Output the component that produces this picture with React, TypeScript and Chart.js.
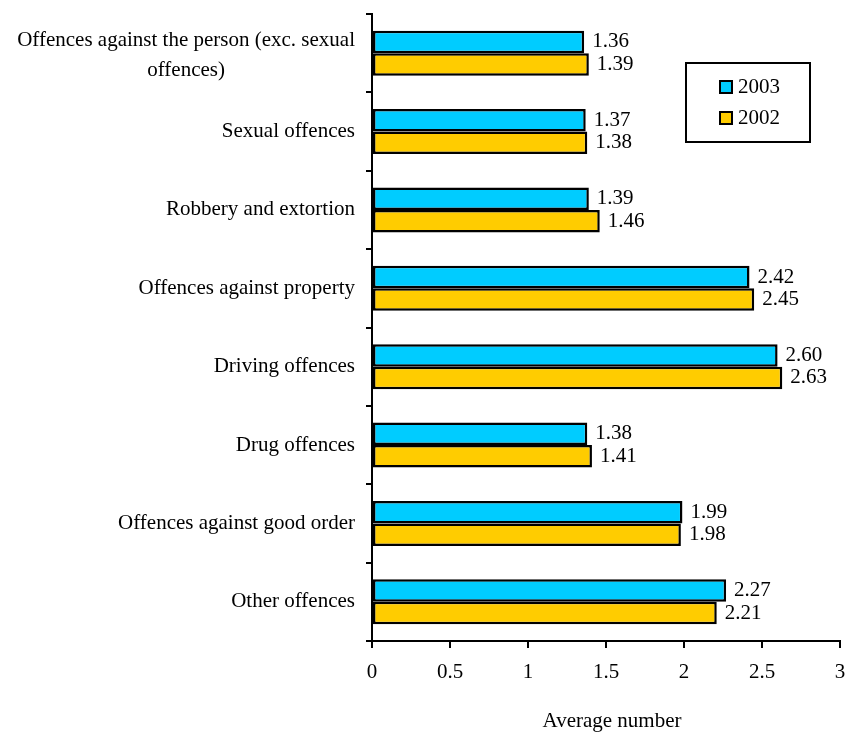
import React, { useEffect, useRef } from "react";
import { Chart, registerables } from "chart.js";

Chart.register(...registerables);

const categories: string[][] = [
  ["Offences against the person (exc. sexual", "offences)"],
  ["Sexual offences"],
  ["Robbery and extortion"],
  ["Offences against property"],
  ["Driving offences"],
  ["Drug offences"],
  ["Offences against good order"],
  ["Other offences"],
];
const series2003: number[] = [1.36, 1.37, 1.39, 2.42, 2.6, 1.38, 1.99, 2.27];
const series2002: number[] = [1.39, 1.38, 1.46, 2.45, 2.63, 1.41, 1.98, 2.21];
const xTicks: number[] = [0, 0.5, 1, 1.5, 2, 2.5, 3];
const seriesNames = ["2003", "2002"];
const seriesColors = ["#00CCFF", "#FFCC00"];
const xTitle = "Average number";

const FONT = '"Liberation Serif", "Times New Roman", serif';
const FONT_SIZE = 21;

// Category names drawn left of the axis, multi-line blocks centred line by line
const categoryLabelsPlugin = {
  id: "categoryLabels",
  afterDraw(chart: any) {
    const ctx = chart.ctx;
    const yScale = chart.scales.y;
    const right = chart.chartArea.left - 17;
    ctx.save();
    ctx.font = `${FONT_SIZE}px ${FONT}`;
    ctx.fillStyle = "#000";
    ctx.textBaseline = "middle";
    ctx.textAlign = "center";
    const lineH = 30;
    categories.forEach((lines, i) => {
      const cy = yScale.getPixelForValue(i) + (lines.length > 1 ? 2 : 0);
      const widths = lines.map((l) => ctx.measureText(l).width);
      const blockW = Math.max(...widths);
      const cx = right - blockW / 2;
      const y0 = cy - ((lines.length - 1) * lineH) / 2;
      lines.forEach((l, k) => ctx.fillText(l, cx, y0 + k * lineH));
    });
    // axis title below the tick labels
    const xScale = chart.scales.x;
    const mid = (xScale.left + xScale.right) / 2 + 6;
    ctx.fillText(xTitle, mid, 721);
    ctx.restore();
  },
};

// Value labels right of each bar end
const valueLabelsPlugin = {
  id: "valueLabels",
  afterDatasetsDraw(chart: any) {
    const ctx = chart.ctx;
    ctx.save();
    ctx.font = `${FONT_SIZE}px ${FONT}`;
    ctx.fillStyle = "#000";
    ctx.textBaseline = "middle";
    ctx.textAlign = "left";
    chart.data.datasets.forEach((ds: any, di: number) => {
      const meta = chart.getDatasetMeta(di);
      meta.data.forEach((bar: any, i: number) => {
        ctx.fillText(Number(ds.data[i]).toFixed(2), bar.x + 8, bar.y);
      });
    });
    ctx.restore();
  },
};

// Boxed legend at the upper right
const boxLegendPlugin = {
  id: "boxLegend",
  afterDraw(chart: any) {
    const ctx = chart.ctx;
    const bx = 686;
    const by = 63;
    const bw = 124;
    const bh = 79;
    ctx.save();
    ctx.fillStyle = "#fff";
    ctx.fillRect(bx, by, bw, bh);
    ctx.strokeStyle = "#000";
    ctx.lineWidth = 2;
    ctx.strokeRect(bx, by, bw, bh);
    ctx.font = `${FONT_SIZE}px ${FONT}`;
    ctx.textBaseline = "middle";
    ctx.textAlign = "left";
    seriesNames.forEach((name, i) => {
      const cy = by + 24 + i * 31;
      ctx.fillStyle = seriesColors[i];
      ctx.fillRect(bx + 34, cy - 6, 12, 12);
      ctx.lineWidth = 2;
      ctx.strokeRect(bx + 34, cy - 6, 12, 12);
      ctx.fillStyle = "#000";
      ctx.fillText(name, bx + 52, cy);
    });
    ctx.restore();
  },
};

export default function App() {
  const canvasRef = useRef<HTMLCanvasElement | null>(null);

  useEffect(() => {
    if (!canvasRef.current) return;
    const chart = new Chart(canvasRef.current, {
      type: "bar",
      data: {
        labels: categories.map((c) => c.join(" ")),
        datasets: [
          {
            label: seriesNames[0],
            data: series2003,
            backgroundColor: seriesColors[0],
            borderColor: "#000",
            borderWidth: 2.5,
            borderSkipped: false,
          },
          {
            label: seriesNames[1],
            data: series2002,
            backgroundColor: seriesColors[1],
            borderColor: "#000",
            borderWidth: 2.5,
            borderSkipped: false,
          },
        ],
      },
      options: {
        indexAxis: "y",
        animation: false,
        responsive: false,
        events: [],
        layout: { padding: { top: 14, right: 7, left: 0, bottom: 0 } },
        datasets: {
          bar: { categoryPercentage: 0.575, barPercentage: 1 },
        },
        plugins: {
          legend: { display: false },
          tooltip: { enabled: false },
          title: { display: false },
        },
        scales: {
          x: {
            type: "linear",
            min: 0,
            max: 3,
            afterBuildTicks: (scale: any) => {
              scale.ticks = xTicks.map((v) => ({ value: v }));
            },
            afterFit: (scale: any) => {
              scale.height = 95;
              scale.paddingRight = 0;
              scale.paddingLeft = 0;
            },
            ticks: {
              color: "#000",
              font: { family: FONT, size: FONT_SIZE },
              padding: 12,
              callback: (v: any) => String(v),
            },
            grid: {
              drawOnChartArea: false,
              drawTicks: true,
              tickLength: 7,
              color: "#000",
              lineWidth: 2,
            },
            border: { display: true, color: "#000", width: 2 },
          },
          y: {
            type: "category",
            afterFit: (scale: any) => {
              scale.width = 372;
              scale.paddingTop = 0;
              scale.paddingBottom = 0;
            },
            ticks: { display: false },
            grid: {
              offset: true,
              drawOnChartArea: false,
              drawTicks: true,
              tickLength: 6,
              color: "#000",
              lineWidth: 2,
            },
            border: { display: true, color: "#000", width: 2 },
          },
        },
      },
      plugins: [categoryLabelsPlugin, valueLabelsPlugin, boxLegendPlugin],
    } as any);
    return () => chart.destroy();
  }, []);

  return (
    <div
      style={{
        position: "fixed",
        left: 0,
        top: 0,
        width: 847,
        height: 736,
        background: "#fff",
      }}
    >
      <canvas ref={canvasRef} width={847} height={736} />
    </div>
  );
}
